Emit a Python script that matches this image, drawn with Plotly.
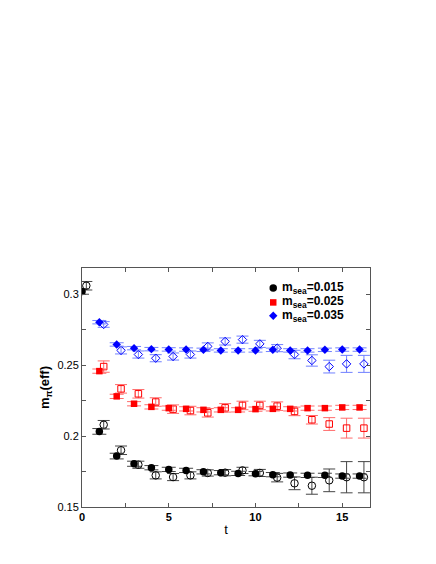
import plotly.graph_objects as go

# effective pion mass vs t, three sea masses
t = list(range(0, 17))
t_open = [v + 0.25 for v in t]

# m_sea = 0.015 (black)
m015_fill = [0.302, 0.2033, 0.1859, 0.1805, 0.1777, 0.1765, 0.1758, 0.1748, 0.1742,
             0.1737, 0.1735, 0.1728, 0.1725, 0.1723, 0.1723, 0.1718, 0.1718]
m015_fill_err = [0.002, 0.002, 0.002, 0.0018, 0.0015, 0.0015, 0.0015, 0.0015, 0.0015,
                 0.0015, 0.0015, 0.0015, 0.0015, 0.0015, 0.0015, 0.0015, 0.0015]
m015_open = [0.306, 0.208, 0.190, 0.1798, 0.1723, 0.1711, 0.1723, 0.174, 0.1742,
             0.1758, 0.174, 0.1707, 0.1667, 0.165, 0.1688, 0.171, 0.171]
m015_open_err = [0.003, 0.003, 0.003, 0.0025, 0.0025, 0.0025, 0.0025, 0.0022, 0.0022,
                 0.0022, 0.0025, 0.003, 0.0045, 0.006, 0.008, 0.011, 0.011]

# m_sea = 0.025 (red), starts at t=1
t_r = t[1:]
t_r_open = t_open[1:]
m025_fill = [0.2458, 0.228, 0.2228, 0.2206, 0.2197, 0.2192, 0.2185, 0.2185,
             0.2185, 0.219, 0.2192, 0.2192, 0.2197, 0.2197, 0.2202, 0.2202]
m025_fill_err = [0.0015] * 16
m025_open = [0.249, 0.2333, 0.2298, 0.224, 0.219, 0.218, 0.2164, 0.2199,
             0.2216, 0.2216, 0.2211, 0.2174, 0.2115, 0.2085, 0.2056, 0.2056]
m025_open_err = [0.004, 0.003, 0.003, 0.003, 0.003, 0.003, 0.003, 0.003,
                 0.003, 0.003, 0.003, 0.003, 0.003, 0.0045, 0.007, 0.007]

# m_sea = 0.035 (blue), starts at t=1
m035_fill = [0.2803, 0.2646, 0.262, 0.2613, 0.2611, 0.261, 0.2608, 0.2604,
             0.2604, 0.2604, 0.2608, 0.2604, 0.2604, 0.2608, 0.261, 0.261]
m035_fill_err = [0.0012] * 16
m035_open = [0.2787, 0.2604, 0.2575, 0.2549, 0.2561, 0.2575, 0.2632, 0.2667,
             0.268, 0.265, 0.262, 0.2575, 0.2533, 0.249, 0.2509, 0.2509]
m035_open_err = [0.002, 0.0025, 0.0025, 0.0025, 0.0025, 0.0025, 0.0025, 0.0025,
                 0.0025, 0.0025, 0.0025, 0.003, 0.004, 0.0045, 0.006, 0.006]

labels = ["<b>m<sub>sea</sub>=0.015</b>", "<b>m<sub>sea</sub>=0.025</b>",
          "<b>m<sub>sea</sub>=0.035</b>"]
symbols = ["circle", "square", "diamond"]
colors = ["black", "#ff0000", "#0000ff"]
err_colors = ["#454545", "#ff6a6a", "#7080ff"]
sizes = [7.5, 6.5, 6.5]

fig = go.Figure()


def add_pair(i, x_f, y_f, e_f, x_o, y_o, e_o):
    c = colors[i]
    fig.add_trace(go.Scatter(
        x=x_o, y=y_o, mode="markers", showlegend=False,
        marker=dict(symbol=symbols[i] + "-open", size=sizes[i], color=c, line=dict(width=1, color=c)),
        error_y=dict(type="data", array=e_o, color=err_colors[i], thickness=1, width=6),
    ))
    fig.add_trace(go.Scatter(
        x=x_f, y=y_f, mode="markers", showlegend=False,
        marker=dict(symbol=symbols[i], size=sizes[i], color=c),
        error_y=dict(type="data", array=e_f, color=err_colors[i], thickness=1, width=7),
    ))


add_pair(0, t, m015_fill, m015_fill_err, t_open, m015_open, m015_open_err)
add_pair(1, t_r, m025_fill, m025_fill_err, t_r_open, m025_open, m025_open_err)
add_pair(2, t_r, m035_fill, m035_fill_err, t_r_open, m035_open, m035_open_err)

# legend: symbols on an overlay axis in plot-fraction units, text as annotations
leg_x = 0.664
leg_y = [0.916, 0.856, 0.80]
for i in range(3):
    fig.add_trace(go.Scatter(
        x=[leg_x], y=[leg_y[i]], xaxis="x2", yaxis="y2", mode="markers", showlegend=False,
        marker=dict(symbol=symbols[i], size=sizes[i], color=colors[i]), hoverinfo="skip",
    ))
    fig.add_annotation(x=leg_x + 0.022, y=leg_y[i], xref="x2", yref="y2", text=labels[i],
                       showarrow=False, xanchor="left", yanchor="middle",
                       font=dict(size=12, color="black"))

axis_common = dict(
    showline=True, linecolor="#555", linewidth=1, mirror="ticks",
    ticks="inside", ticklen=4, tickcolor="#555", showgrid=False, zeroline=False,
)

fig.update_xaxes(
    range=[0, 16.6], dtick=5, tick0=0,
    tickfont=dict(size=11, color="black", weight="bold"),
    minor=dict(ticks="inside", dtick=2.5, ticklen=4, tickcolor="#555"),
    title=dict(text="t", font=dict(size=13, color="black"), standoff=2),
    **axis_common,
)
fig.update_yaxes(
    range=[0.15, 0.3185], tickvals=[0.15, 0.2, 0.25, 0.3], ticktext=["0.15", "0.2", "0.25", "0.3"],
    tickfont=dict(size=11, color="black"),
    minor=dict(ticks="inside", tickvals=[0.175, 0.225, 0.275], ticklen=4, tickcolor="#555"),
    title=dict(text="<b>m<sub>π</sub>(eff)</b>", font=dict(size=13, color="black"), standoff=4),
    **axis_common,
)

fig.update_layout(
    width=436, height=564,
    margin=dict(l=74, r=74, t=260, b=65),
    paper_bgcolor="white", plot_bgcolor="white",
    font=dict(family="Liberation Sans, Arial, sans-serif", color="black"),
    xaxis2=dict(overlaying="x", range=[0, 1], visible=False, fixedrange=True),
    yaxis2=dict(overlaying="y", range=[0, 1], visible=False, fixedrange=True),
    showlegend=False,
)

fig.write_html("out.html")
